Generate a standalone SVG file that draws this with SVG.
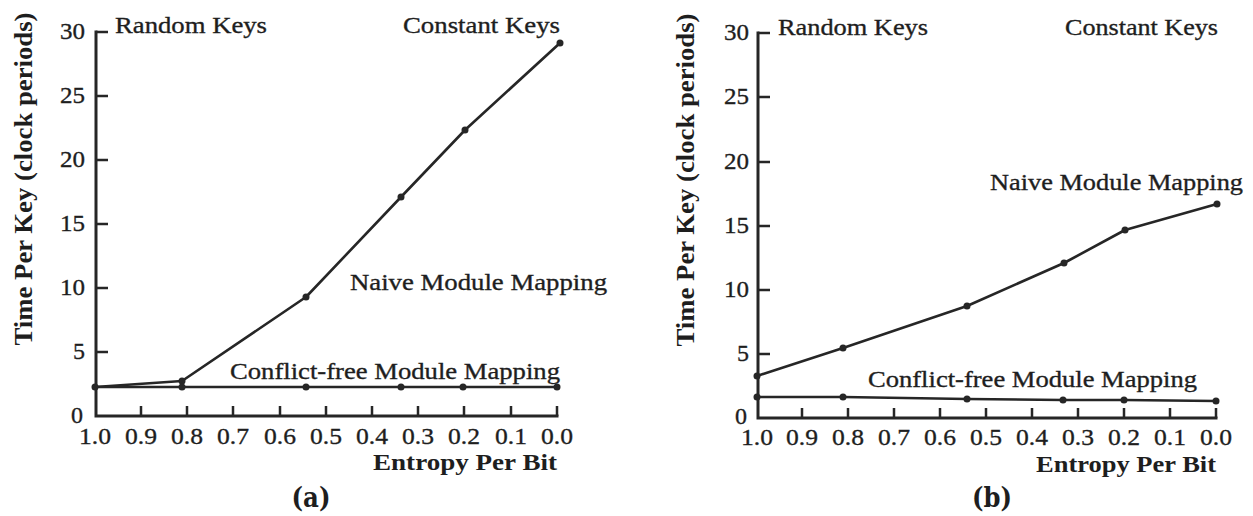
<svg xmlns="http://www.w3.org/2000/svg" width="1253" height="516" viewBox="0 0 1253 516">
<style>
  .ax { stroke: #262626; stroke-width: 3; fill: none; stroke-linecap: square; }
  .tk { stroke: #262626; stroke-width: 2.5; fill: none; }
  .ln { stroke: #262626; stroke-width: 2.6; fill: none; stroke-linejoin: round; }
  .pt { fill: #262626; }
  .t  { font-family: "Liberation Serif", "Times New Roman", serif; font-size: 24px; fill: #1e1e1e; stroke: #1e1e1e; stroke-width: 0.35; }
  .tb { font-family: "Liberation Serif", "Times New Roman", serif; font-size: 24px; font-weight: bold; fill: #1e1e1e; }
  .yt { text-anchor: end; }
  .xt { text-anchor: middle; }
  .cap { font-family: "DejaVu Serif", "Liberation Serif", serif; font-size: 27px; font-weight: bold; fill: #1e1e1e; text-anchor: middle; }
</style>

<!-- Chart (a): y axis 0..30 maps 416..32, x axis 1.0..0.0 maps 95..557 -->
<g id="chart-a">
  <g id="axes-a">
    <path class="ax" d="M96,32 V416 H557"/>
    <path class="tk" d="M96,32 H108 M96,96 H108 M96,160 H108 M96,224 H108 M96,288 H108 M96,352 H108"/>
    <path class="tk" d="M141,416 V406 M187,416 V406 M233,416 V406 M280,416 V406 M326,416 V406 M372,416 V406 M418,416 V406 M464,416 V406 M511,416 V406 M557,416 V406"/>
  </g>
  <g id="yticks-a" class="t yt">
    <text x="85" y="39" textLength="25" lengthAdjust="spacingAndGlyphs">30</text>
    <text x="85" y="103" textLength="25" lengthAdjust="spacingAndGlyphs">25</text>
    <text x="85" y="167" textLength="25" lengthAdjust="spacingAndGlyphs">20</text>
    <text x="85" y="231" textLength="25" lengthAdjust="spacingAndGlyphs">15</text>
    <text x="85" y="295" textLength="25" lengthAdjust="spacingAndGlyphs">10</text>
    <text x="85" y="359" textLength="12" lengthAdjust="spacingAndGlyphs">5</text>
    <text x="83" y="423" textLength="12" lengthAdjust="spacingAndGlyphs">0</text>
  </g>
  <g id="xticks-a" class="t xt">
    <text x="95" y="444" textLength="32" lengthAdjust="spacingAndGlyphs">1.0</text>
    <text x="141" y="444" textLength="32" lengthAdjust="spacingAndGlyphs">0.9</text>
    <text x="187" y="444" textLength="32" lengthAdjust="spacingAndGlyphs">0.8</text>
    <text x="233" y="444" textLength="32" lengthAdjust="spacingAndGlyphs">0.7</text>
    <text x="280" y="444" textLength="32" lengthAdjust="spacingAndGlyphs">0.6</text>
    <text x="326" y="444" textLength="32" lengthAdjust="spacingAndGlyphs">0.5</text>
    <text x="372" y="444" textLength="32" lengthAdjust="spacingAndGlyphs">0.4</text>
    <text x="418" y="444" textLength="32" lengthAdjust="spacingAndGlyphs">0.3</text>
    <text x="464" y="444" textLength="32" lengthAdjust="spacingAndGlyphs">0.2</text>
    <text x="511" y="444" textLength="32" lengthAdjust="spacingAndGlyphs">0.1</text>
    <text x="557" y="444" textLength="32" lengthAdjust="spacingAndGlyphs">0.0</text>
  </g>
  <text id="ylabel-a" class="tb" transform="translate(32,179) rotate(-90)" text-anchor="middle" textLength="333" lengthAdjust="spacingAndGlyphs" style="font-size:26px">Time Per Key (clock periods)</text>
  <text id="xlabel-a" class="tb" x="557" y="470" text-anchor="end" textLength="184" lengthAdjust="spacingAndGlyphs">Entropy Per Bit</text>
  <text id="title-rand-a" class="t" x="115" y="33" textLength="152" lengthAdjust="spacingAndGlyphs">Random Keys</text>
  <text id="title-const-a" class="t" x="403" y="33" textLength="157" lengthAdjust="spacingAndGlyphs">Constant Keys</text>
  <text id="label-naive-a" class="t" x="350" y="290" textLength="257" lengthAdjust="spacingAndGlyphs">Naive Module Mapping</text>
  <text id="label-cf-a" class="t" x="230" y="379" textLength="330" lengthAdjust="spacingAndGlyphs">Conflict-free Module Mapping</text>
  <text id="cap-a" class="cap" x="311" y="507" textLength="39" lengthAdjust="spacingAndGlyphs">(a)</text>
</g>

<g id="series-a">
  <polyline id="naive-a" class="ln" points="95,387 182,381 306,297 401,197 465,130 560,43"/>
  <polyline id="cf-a" class="ln" points="95,387 182,387 306,387 401,387 463,387 557,387"/>
  <g class="pt">
    <circle cx="95" cy="387" r="3.5"/><circle cx="182" cy="381" r="3.5"/><circle cx="306" cy="297" r="3.5"/>
    <circle cx="401" cy="197" r="3.5"/><circle cx="465" cy="130" r="3.5"/><circle cx="560" cy="43" r="3.5"/>
    <circle cx="182" cy="387" r="3.5"/><circle cx="306" cy="387" r="3.5"/>
    <circle cx="401" cy="387" r="3.5"/><circle cx="463" cy="387" r="3.5"/><circle cx="557" cy="387" r="3.5"/>
  </g>
</g>

<!-- Chart (b): y axis 0..30 maps 418..33, x axis 1.0..0.0 maps 757..1216 -->
<g id="chart-b">
  <g id="axes-b">
    <path class="ax" d="M758,33 V418 H1216"/>
    <path class="tk" d="M758,33 H770 M758,97 H770 M758,162 H770 M758,226 H770 M758,290 H770 M758,354 H770"/>
    <path class="tk" d="M802,418 V408 M848,418 V408 M894,418 V408 M940,418 V408 M986,418 V408 M1032,418 V408 M1078,418 V408 M1124,418 V408 M1170,418 V408 M1216,418 V408"/>
  </g>
  <g id="yticks-b" class="t yt">
    <text x="749" y="40" textLength="25" lengthAdjust="spacingAndGlyphs">30</text>
    <text x="749" y="104" textLength="25" lengthAdjust="spacingAndGlyphs">25</text>
    <text x="749" y="169" textLength="25" lengthAdjust="spacingAndGlyphs">20</text>
    <text x="749" y="233" textLength="25" lengthAdjust="spacingAndGlyphs">15</text>
    <text x="749" y="297" textLength="25" lengthAdjust="spacingAndGlyphs">10</text>
    <text x="749" y="361" textLength="12" lengthAdjust="spacingAndGlyphs">5</text>
    <text x="747" y="424" textLength="12" lengthAdjust="spacingAndGlyphs">0</text>
  </g>
  <g id="xticks-b" class="t xt">
    <text x="757" y="445" textLength="32" lengthAdjust="spacingAndGlyphs">1.0</text>
    <text x="802" y="445" textLength="32" lengthAdjust="spacingAndGlyphs">0.9</text>
    <text x="848" y="445" textLength="32" lengthAdjust="spacingAndGlyphs">0.8</text>
    <text x="894" y="445" textLength="32" lengthAdjust="spacingAndGlyphs">0.7</text>
    <text x="940" y="445" textLength="32" lengthAdjust="spacingAndGlyphs">0.6</text>
    <text x="986" y="445" textLength="32" lengthAdjust="spacingAndGlyphs">0.5</text>
    <text x="1032" y="445" textLength="32" lengthAdjust="spacingAndGlyphs">0.4</text>
    <text x="1078" y="445" textLength="32" lengthAdjust="spacingAndGlyphs">0.3</text>
    <text x="1124" y="445" textLength="32" lengthAdjust="spacingAndGlyphs">0.2</text>
    <text x="1170" y="445" textLength="32" lengthAdjust="spacingAndGlyphs">0.1</text>
    <text x="1216" y="445" textLength="32" lengthAdjust="spacingAndGlyphs">0.0</text>
  </g>
  <text id="ylabel-b" class="tb" transform="translate(694,180) rotate(-90)" text-anchor="middle" textLength="333" lengthAdjust="spacingAndGlyphs" style="font-size:26px">Time Per Key (clock periods)</text>
  <text id="xlabel-b" class="tb" x="1216" y="472" text-anchor="end" textLength="180" lengthAdjust="spacingAndGlyphs">Entropy Per Bit</text>
  <text id="title-rand-b" class="t" x="778" y="35" textLength="150" lengthAdjust="spacingAndGlyphs">Random Keys</text>
  <text id="title-const-b" class="t" x="1065" y="35" textLength="153" lengthAdjust="spacingAndGlyphs">Constant Keys</text>
  <text id="label-naive-b" class="t" x="990" y="190" textLength="253" lengthAdjust="spacingAndGlyphs">Naive Module Mapping</text>
  <text id="label-cf-b" class="t" x="868" y="387" textLength="329" lengthAdjust="spacingAndGlyphs">Conflict-free Module Mapping</text>
  <text id="cap-b" class="cap" x="992" y="507" textLength="40" lengthAdjust="spacingAndGlyphs">(b)</text>
</g>

<g id="series-b">
  <polyline id="naive-b" class="ln" points="757,376 843,348 967,306 1064,263 1125,230 1217,204"/>
  <polyline id="cf-b" class="ln" points="757,397 843,397 967,399 1063,400 1124,400 1216,401"/>
  <g class="pt">
    <circle cx="757" cy="376" r="3.5"/><circle cx="843" cy="348" r="3.5"/><circle cx="967" cy="306" r="3.5"/>
    <circle cx="1064" cy="263" r="3.5"/><circle cx="1125" cy="230" r="3.5"/><circle cx="1217" cy="204" r="3.5"/>
    <circle cx="757" cy="397" r="3.5"/><circle cx="843" cy="397" r="3.5"/><circle cx="967" cy="399" r="3.5"/>
    <circle cx="1063" cy="400" r="3.5"/><circle cx="1124" cy="400" r="3.5"/><circle cx="1216" cy="401" r="3.5"/>
  </g>
</g>
</svg>
